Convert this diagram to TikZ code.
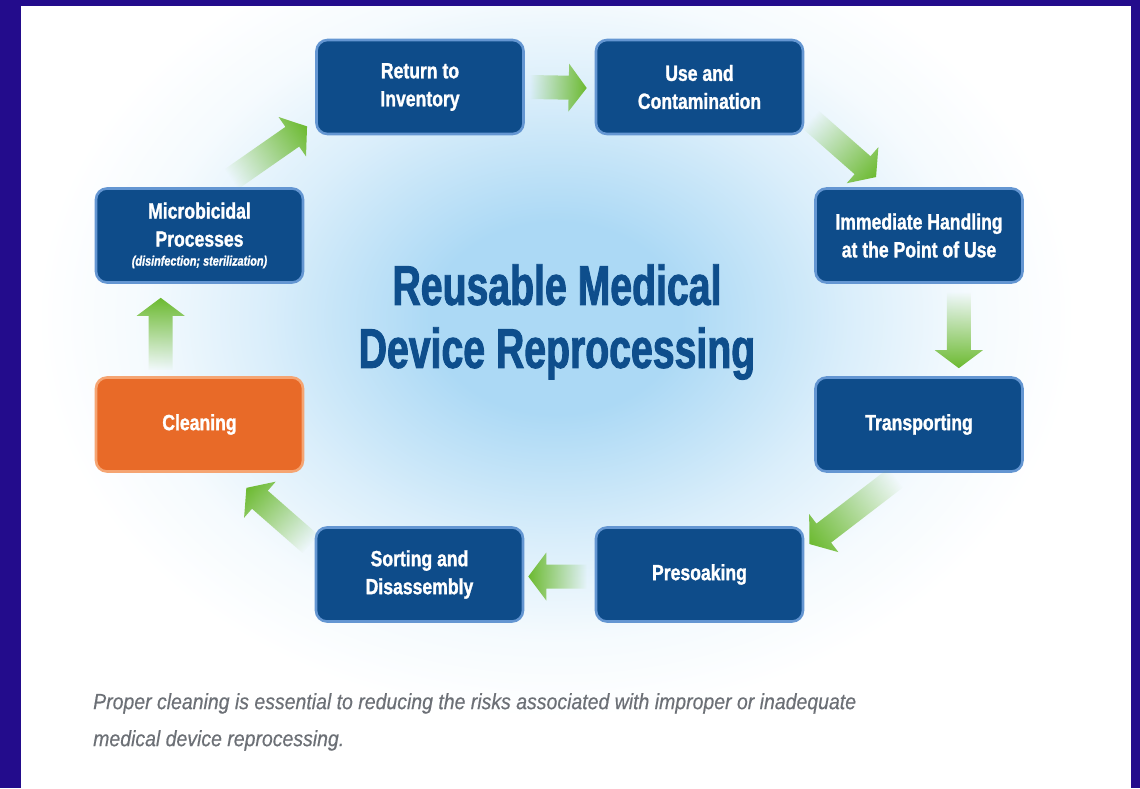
\documentclass[tikz,border=0pt]{standalone}
\usepackage{fontspec}
\usetikzlibrary{calc,fadings}

% condensed faces for the labels
\newfontfamily\boxfont{Liberation Sans}[FakeStretch=0.8,FakeBold=1.2]
\newfontfamily\titlefont{Liberation Sans}[FakeStretch=0.7,FakeBold=1.6]
\newfontfamily\notefont{Liberation Sans}[FakeStretch=0.885,FakeBold=0.4]

\definecolor{framecol}{RGB}{35,12,140}
\definecolor{boxblue}{RGB}{14,76,138}
\definecolor{boxedge}{RGB}{100,150,210}
\definecolor{cleanorange}{RGB}{232,106,40}
\definecolor{cleanedge}{RGB}{245,165,115}
\definecolor{titleblue}{RGB}{14,78,140}
\definecolor{arrowgreen}{RGB}{108,186,48}
\definecolor{notegray}{RGB}{108,112,118}
\definecolor{glowblue}{RGB}{172,217,245}

% soft blue halo behind the title
\pgfdeclareradialshading{halo}{\pgfpoint{0bp}{0bp}}{%
  color(0bp)=(glowblue); color(6bp)=(glowblue);
  color(14bp)=(glowblue!45!white); color(20bp)=(glowblue!12!white);
  color(25bp)=(white); color(50bp)=(white)}

% arrows fade out towards their tail
\tikzfading[name=tailfade, left color=transparent!100,
  middle color=transparent!55, right color=transparent!0]

% block arrow from coordinate #1 to coordinate #2
\newcommand\cyclearrow[2]{%
  \path let \p1=(#1), \p2=(#2) in
    \pgfextra{%
      \pgfmathsetmacro\arrang{atan2(\y2-\y1,\x2-\x1)}%
      \pgfmathsetmacro\arrlen{veclen(\x2-\x1,\y2-\y1)}%
      \global\let\garrang\arrang
      \global\let\garrlen\arrlen};
  \begin{scope}[transform canvas={shift={(#1)}, rotate=\garrang}]
    \fill[arrowgreen, path fading=tailfade]
      (0pt,-12pt) -- ({\garrlen pt-18pt},-12pt) -- ({\garrlen pt-18pt},-24pt)
      -- (\garrlen pt,0pt) -- ({\garrlen pt-18pt},24pt) -- ({\garrlen pt-18pt},12pt)
      -- (0pt,12pt) -- cycle;
  \end{scope}
}

\begin{document}
\begin{tikzpicture}[x=1pt,y=-1pt,
  stage/.style={draw=boxedge, line width=2.6pt, fill=boxblue,
    rounded corners=11pt, minimum width=207pt, minimum height=94pt,
    inner sep=0pt, align=center, text=white,
    font=\boxfont\bfseries\fontsize{22}{28}\selectfont},
  cleanstage/.style={draw=cleanedge, fill=cleanorange},
  titletext/.style={align=center, text=titleblue,
    font=\titlefont\bfseries\fontsize{56}{63}\selectfont},
  notetext/.style={align=left, text=notegray, inner sep=0pt,
    font=\notefont\itshape\fontsize{22}{37}\selectfont}]

\useasboundingbox (0,0) rectangle (1140,788);

% frame and page
\fill[framecol] (0,0) rectangle (1140,788);
\fill[white] (21,6) rectangle (1131,788);
\begin{scope}
  \clip (21,6) rectangle (1131,788);
  \shade[shading=halo] (556,318) ellipse [x radius=520, y radius=400];
\end{scope}

% title
\node[titletext] (title) at (557,322) {Reusable Medical\\Device Reprocessing};

% process stages
\node[stage] (ret)   at (420,87)      {Return to\\Inventory};
\node[stage] (use)   at (699.5,87)    {Use and\\Contamination};
\node[stage] (imm)   at (919,235.5)   {Immediate Handling\\at the Point of Use};
\node[stage] (trans) at (919,424.5)   {Transporting};
\node[stage] (pres)  at (699.5,574.5) {Presoaking};
\node[stage] (sort)  at (419.5,574.5) {Sorting and\\Disassembly};
\node[stage, cleanstage] (clean) at (199.5,424.5) {Cleaning};
\node[stage] (micro) at (199.5,235.5)
  {Microbicidal\\Processes\\[-9pt]{\fontsize{13.6}{15}\selectfont\itshape (disinfection; sterilization)}};

% arrow end points
\coordinate (a1s) at ($(micro.north east)+(-73,-8)$);
\coordinate (a1e) at ($(ret.south west)+(-8,-9)$);
\coordinate (a2s) at ($(ret.east)+(5,0)$);
\coordinate (a2e) at ($(use.west)+(-8,1)$);
\coordinate (a3s) at ($(use.south east)+(6,-16)$);
\coordinate (a3e) at ($(imm.north west)+(62,-10)$);
\coordinate (a4s) at ($(imm.south east)+(-65,8)$);
\coordinate (a4e) at ($(trans.north east)+(-65,-8)$);
\coordinate (a5s) at ($(trans.south east)+(-128,5)$);
\coordinate (a5e) at ($(pres.north east)+(5,18)$);
\coordinate (a6s) at ($(pres.west)+(-8,2)$);
\coordinate (a6e) at ($(sort.east)+(4,2)$);
\coordinate (a7s) at ($(sort.north west)+(-4,18)$);
\coordinate (a7e) at ($(clean.south east)+(-58,15)$);
\coordinate (a8s) at ($(clean.north west)+(66,-6)$);
\coordinate (a8e) at ($(micro.south west)+(66,14)$);

\cyclearrow{a1s}{a1e}
\cyclearrow{a2s}{a2e}
\cyclearrow{a3s}{a3e}
\cyclearrow{a4s}{a4e}
\cyclearrow{a5s}{a5e}
\cyclearrow{a6s}{a6e}
\cyclearrow{a7s}{a7e}
\cyclearrow{a8s}{a8e}

% caption
\node[notetext, anchor=north west] (note) at (93,693)
  {Proper cleaning is essential to reducing the risks associated with improper or inadequate\\
   medical device reprocessing.};

\end{tikzpicture}
\end{document}
